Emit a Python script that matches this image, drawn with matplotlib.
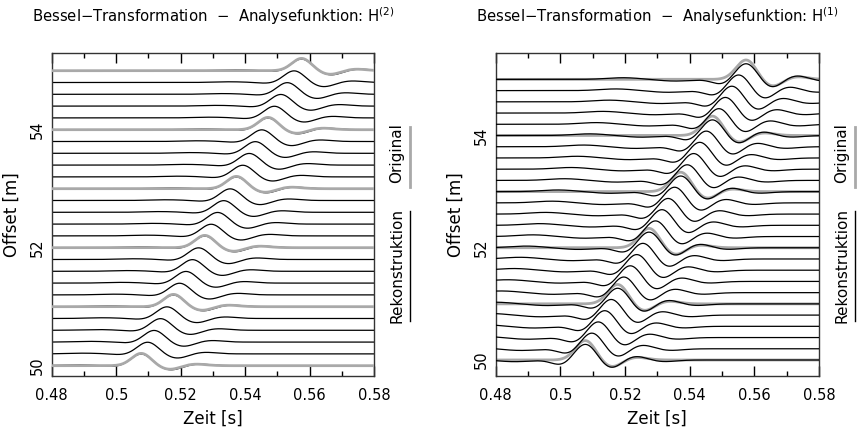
import numpy as np
import matplotlib.pyplot as plt
from matplotlib.ticker import MultipleLocator

# offsets of the traces [m] and picked peak times [s]
offsets = [50.0, 50.2, 50.4, 50.6, 50.8, 51.0, 51.2, 51.4, 51.6, 51.8,
           52.0, 52.2, 52.4, 52.6, 52.8, 53.0, 53.2, 53.4, 53.6, 53.8,
           54.0, 54.2, 54.4, 54.6, 54.8, 55.0]
peak_times = [0.5078, 0.5098, 0.5118, 0.5138, 0.5158, 0.5178, 0.5197, 0.5217, 0.5237, 0.5256,
              0.5275, 0.5295, 0.5315, 0.5334, 0.5354, 0.5373, 0.5393, 0.5413, 0.5432, 0.5452,
              0.5471, 0.5491, 0.5511, 0.5531, 0.5552, 0.5575]
original_offsets = [50.0, 51.0, 52.0, 53.0, 54.0, 55.0]

# wavelet lobes: delay to peak [s], amplitude [m], width [s]
orig_l_dt = [0.0, 0.0088, 0.0165]
orig_l_amp = [0.21, -0.065, 0.028]
orig_l_w = [0.003, 0.0032, 0.0035]

rec_l_dt = [-0.02, -0.008, 0.0, 0.009, 0.0175]
rec_l_amp = [0.012, -0.015, 0.20, -0.075, 0.028]
rec_l_w = [0.005, 0.003, 0.0032, 0.0034, 0.0037]

orig_r_dt = [0.0, 0.008, 0.0155]
orig_r_amp = [0.35, -0.13, 0.05]
orig_r_w = [0.0031, 0.0031, 0.0034]

rec_r_dt = [-0.038, -0.022, -0.0075, 0.0, 0.0078, 0.0155, 0.024]
rec_r_amp = [0.03, -0.03, -0.09, 0.29, -0.15, 0.07, -0.03]
rec_r_w = [0.005, 0.005, 0.003, 0.0033, 0.0032, 0.0034, 0.004]

t = np.linspace(0.48, 0.58, 1001)
GRAY = "#a9a9a9"


def wiggle(t0, dts, amps, widths):
    y = np.zeros_like(t)
    for dt, a, w in zip(dts, amps, widths):
        y += a * np.exp(-0.5 * ((t - t0 - dt) / w) ** 2)
    return y


plt.rcParams["font.family"] = ["DejaVu Sans"]
plt.rcParams["font.size"] = 10.5

fig = plt.figure(figsize=(8.57, 4.32), dpi=100)
ax_l = fig.add_axes([0.0603, 0.1303, 0.3764, 0.747])
ax_r = fig.add_axes([0.5784, 0.1303, 0.3773, 0.747])

panels = [
    (ax_l, (orig_l_dt, orig_l_amp, orig_l_w), (rec_l_dt, rec_l_amp, rec_l_w),
     (49.83, 55.3), r"Bessel$-$Transformation  $-$  Analysefunktion: H$^{(2)}$", True),
    (ax_r, (orig_r_dt, orig_r_amp, orig_r_w), (rec_r_dt, rec_r_amp, rec_r_w),
     (49.72, 55.47), r"Bessel$-$Transformation  $-$  Analysefunktion: H$^{(1)}$", False),
]

for ax, orig, rec, ylim, title, gray_on_top in panels:
    for off, t0 in zip(offsets, peak_times):
        ax.plot(t, off + wiggle(t0, *rec), color="black", lw=0.9,
                zorder=2 if gray_on_top else 3)
        if off in original_offsets:
            ax.plot(t, off + wiggle(t0, *orig), color=GRAY, lw=2.0,
                    zorder=3 if gray_on_top else 2.5, solid_capstyle="butt")
    ax.set_xlim(0.48, 0.58)
    ax.set_ylim(*ylim)
    ax.xaxis.set_minor_locator(MultipleLocator(0.01))
    ax.set_xticks([0.48, 0.5, 0.52, 0.54, 0.56, 0.58])
    ax.set_xticklabels(["0.48", "0.5", "0.52", "0.54", "0.56", "0.58"])
    ax.tick_params(axis="x", which="both", direction="in", top=True, pad=9)
    ax.tick_params(axis="x", which="major", length=7, width=1)
    ax.tick_params(axis="x", which="minor", length=3.5, width=1)
    ax.set_yticks([50, 52, 54])
    ax.set_yticklabels(["50", "52", "54"], rotation=90, va="center")
    ax.tick_params(axis="y", length=0, pad=5)
    for s in ax.spines.values():
        s.set_color("#333333")
        s.set_linewidth(1.0)
    ax.set_xlabel("Zeit [s]", fontsize=12)
    ax.xaxis.set_label_coords(0.5, -0.104)
    ax.set_ylabel("Offset [m]", fontsize=12)
    ax.yaxis.set_label_coords(-0.097, 0.5)
    ax.set_title(title, pad=22, fontsize=10.7)

    # side labels
    ax.text(1.07, 0.69, "Original", rotation=90, transform=ax.transAxes,
            ha="center", va="center", fontsize=11)
    ax.plot([1.112, 1.112], [0.585, 0.77], transform=ax.transAxes, color=GRAY,
            lw=2, clip_on=False)
    ax.text(1.07, 0.343, "Rekonstruktion", rotation=90, transform=ax.transAxes,
            ha="center", va="center", fontsize=11)
    ax.plot([1.112, 1.112], [0.17, 0.51], transform=ax.transAxes, color="black",
            lw=1, clip_on=False)

fig.savefig("out.png", dpi=100)
